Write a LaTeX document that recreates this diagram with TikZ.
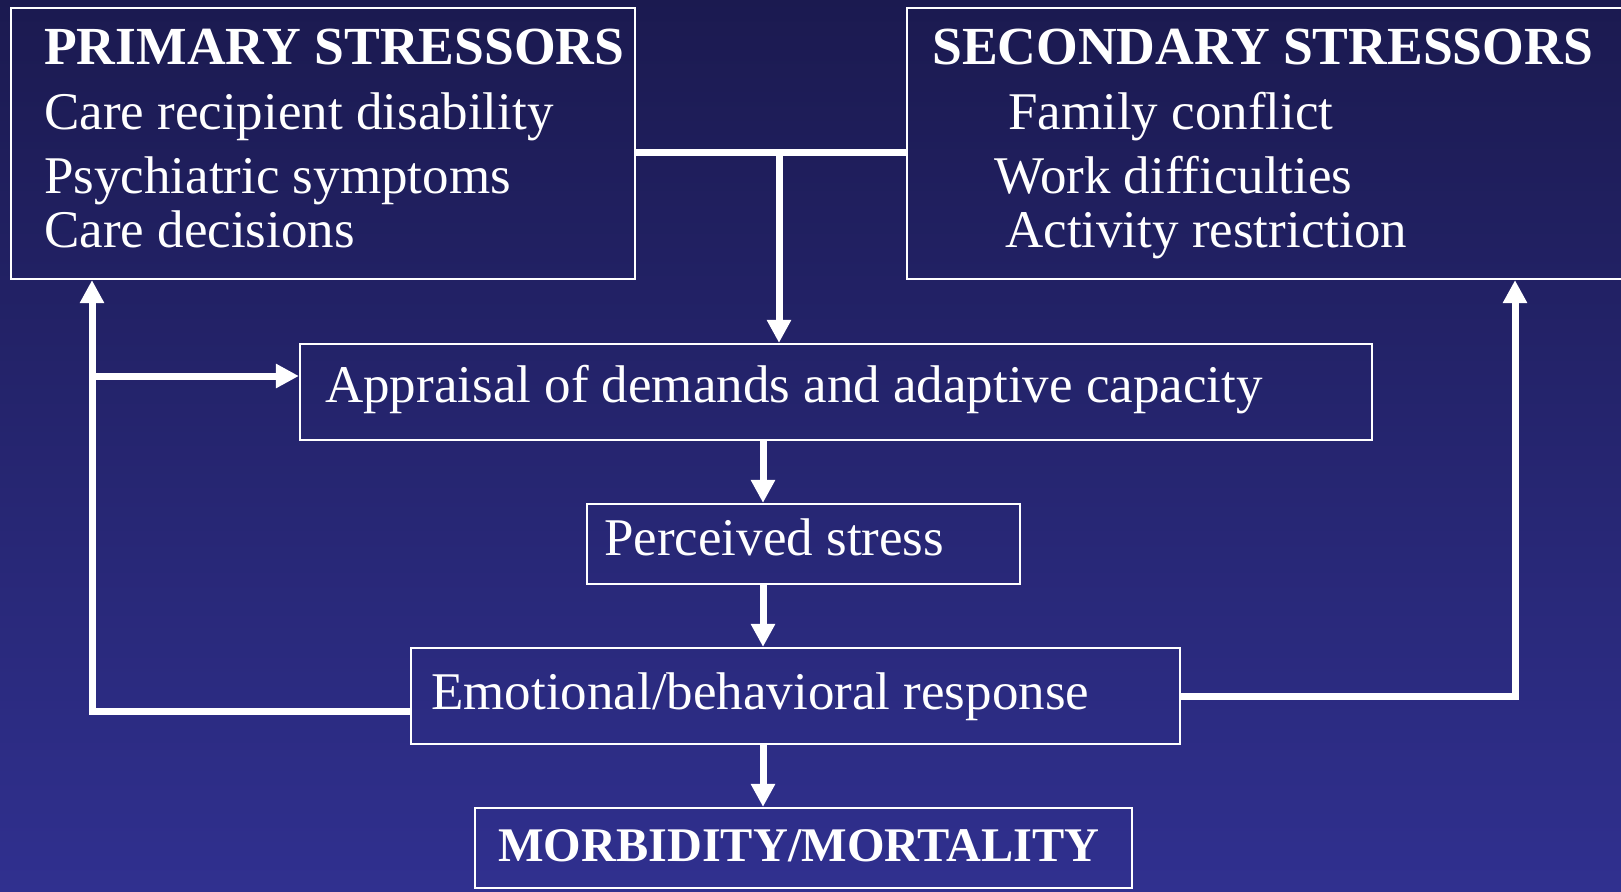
\documentclass[tikz,border=0pt]{standalone}
\usepackage{fontspec}
\setmainfont{Liberation Serif}
\usetikzlibrary{arrows.meta}
\definecolor{bgtop}{RGB}{27,26,80}
\definecolor{bgbot}{RGB}{48,48,143}
\begin{document}
\begin{tikzpicture}[x=1pt,y=-1pt,
  box/.style={draw=white,line width=2.2pt,rectangle,inner sep=0pt},
  txt/.style={anchor=base west,inner sep=0pt,text=white,font=\fontsize{53}{60}\selectfont},
  btxt/.style={anchor=base west,inner sep=0pt,text=white,font=\fontsize{53.6}{60}\selectfont\bfseries},
  mtxt/.style={anchor=base west,inner sep=0pt,text=white,font=\fontsize{48.3}{55}\selectfont\bfseries},
  conn/.style={draw=white,line width=7pt},
  arr/.style={draw=white,line width=7pt,-{Triangle[width=23pt,length=23pt]}}]
\useasboundingbox (0,0) rectangle (1621,891);
\shade[top color=bgtop,bottom color=bgbot] (0,0) rectangle (1621,891);

% boxes
\node[box,minimum width=624pt,minimum height=271pt] (prim) at (323,143.5) {};
\node[box,minimum width=723pt,minimum height=271pt] (sec) at (1268.5,143.5) {};
\node[box,minimum width=1072pt,minimum height=96pt] (app) at (836,392) {};
\node[box,minimum width=433pt,minimum height=80pt] (per) at (803.5,544) {};
\node[box,minimum width=769pt,minimum height=96pt] (emo) at (795.5,696) {};
\node[box,minimum width=657pt,minimum height=80pt] (mor) at (803.5,848) {};

% texts
\node[btxt] (p0) at (44,65) {PRIMARY STRESSORS};
\node[txt] (p1) at (44,129) {Care recipient disability};
\node[txt] (p2) at (44,193) {Psychiatric symptoms};
\node[txt] (p3) at (44,247) {Care decisions};
\node[btxt] (s0) at (932,65) {SECONDARY STRESSORS};
\node[txt] (s1) at (1008,129) {Family conflict};
\node[txt] (s2) at (994,193) {Work difficulties};
\node[txt] (s3) at (1005,247) {Activity restriction};
\node[txt] (a1) at (325,402) {Appraisal of demands and adaptive capacity};
\node[txt] (r1) at (604,555) {Perceived stress};
\node[txt] (e1) at (431,709) {Emotional/behavioral response};
\node[mtxt] (m1) at (498,861) {MORBIDITY/MORTALITY};

% connectors
\coordinate (top) at (779,152);
\draw[conn] (prim.east |- top) -- (sec.west |- top);
\draw[arr] (top) -- (top |- app.north);
\coordinate (mid) at (763,500);
\draw[arr] (mid |- app.south) -- (mid |- per.north);
\draw[arr] (mid |- per.south) -- (mid |- emo.north);
\draw[arr] (mid |- emo.south) -- (mid |- mor.north);
\coordinate (lc) at (92,711);
\draw[arr] (emo.west |- lc) -- (lc) -- (lc |- prim.south);
\coordinate (lb) at (92,376);
\draw[arr] (lb) -- (lb -| app.west);
\coordinate (rc) at (1515,696);
\draw[arr] (emo.east |- rc) -- (rc) -- (rc |- sec.south);
\end{tikzpicture}
\end{document}
